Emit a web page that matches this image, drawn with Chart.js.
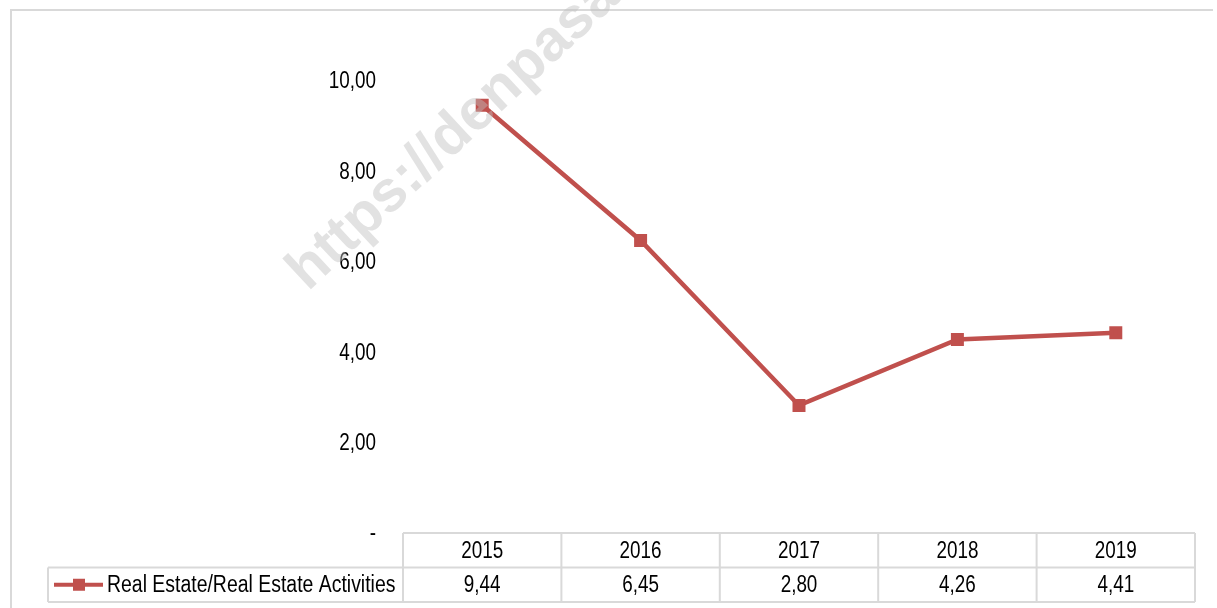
<!DOCTYPE html>
<html>
<head>
<meta charset="utf-8">
<script src="https://cdn.jsdelivr.net/npm/chart.js@4"></script>
<style>
  html, body { margin: 0; padding: 0; background: #fff; }
  #wrap { width: 1217px; height: 608px; position: relative; }
</style>
</head>
<body>
<div id="wrap"><canvas id="myChart" width="1217" height="608"></canvas></div>
<script>
const years = ['2015', '2016', '2017', '2018', '2019']
const realEstate = [9.44, 6.45, 2.80, 4.26, 4.41]
const seriesName = 'Real Estate/Real Estate Activities'
const yTicks = [0, 2, 4, 6, 8, 10]

const FONT = "'Liberation Sans', Arial, sans-serif"
const NARROW = 0.82   // squeeze text like Arial Narrow
const RED = '#c0504d'
const GRID = '#d9d9d9'

const fmt = (v) => v === 0 ? '-' : v.toFixed(2).replace('.', ',')

// draw text squeezed horizontally
const narrowText = (ctx, txt, x, y, align, sx) => {
  ctx.save()
  ctx.translate(x, y)
  ctx.scale(sx || NARROW, 1)
  ctx.textAlign = align
  ctx.fillText(txt, 0, 0)
  ctx.restore()
}

// watermark + frame + y labels + data table under the plot
const extras = {
  id: 'extras',
  beforeDraw(chart) {
    const ctx = chart.ctx
    ctx.save()
    ctx.strokeStyle = GRID
    ctx.lineWidth = 2
    ctx.beginPath()
    ctx.moveTo(11, 620)
    ctx.lineTo(11, 10)
    ctx.lineTo(1213, 10)
    ctx.stroke()
    ctx.restore()
  },
  afterDraw(chart) {
    const ctx = chart.ctx
    const x = chart.scales.x
    const y = chart.scales.y
    const area = chart.chartArea
    const step = x.getPixelForValue(1) - x.getPixelForValue(0)
    const top = area.bottom + 1
    const rowH = 34.5
    const legendLeft = 48

    ctx.save()
    ctx.fillStyle = '#000'
    ctx.font = '23px ' + FONT
    ctx.textBaseline = 'middle'
    y.ticks.forEach(t => {
      narrowText(ctx, fmt(t.value), 376, y.getPixelForValue(t.value) + 2, 'right')
    })

    ctx.strokeStyle = GRID
    ctx.lineWidth = 2
    ctx.beginPath()
    ctx.moveTo(area.left, top)
    ctx.lineTo(area.right, top)
    ctx.moveTo(legendLeft, top + rowH)
    ctx.lineTo(area.right, top + rowH)
    ctx.moveTo(legendLeft, top + rowH * 2)
    ctx.lineTo(area.right, top + rowH * 2)
    ctx.moveTo(legendLeft, top + rowH)
    ctx.lineTo(legendLeft, top + rowH * 2)
    years.forEach((yr, i) => {
      const c = x.getPixelForValue(i)
      ctx.moveTo(c - step / 2, top)
      ctx.lineTo(c - step / 2, top + rowH * 2)
    })
    const last = x.getPixelForValue(years.length - 1) + step / 2
    ctx.moveTo(last, top)
    ctx.lineTo(last, top + rowH * 2)
    ctx.stroke()

    years.forEach((yr, i) => {
      const c = x.getPixelForValue(i)
      narrowText(ctx, yr, c, top + rowH / 2 + 1, 'center')
      narrowText(ctx, fmt(realEstate[i]), c, top + rowH * 1.5 + 1, 'center')
    })

    // legend key
    const ly = top + rowH * 1.5
    ctx.strokeStyle = RED
    ctx.lineWidth = 4
    ctx.beginPath()
    ctx.moveTo(54, ly)
    ctx.lineTo(103, ly)
    ctx.stroke()
    ctx.fillStyle = RED
    ctx.fillRect(73, ly - 6, 12, 12)
    ctx.fillStyle = '#000'
    narrowText(ctx, seriesName, 107, ly + 1, 'left', 0.845)

    // watermark
    ctx.translate(308, 292)
    ctx.rotate(-43 * Math.PI / 180)
    ctx.font = 'bold 58px ' + FONT
    ctx.fillStyle = 'rgba(190,190,190,0.45)'
    ctx.textAlign = 'left'
    ctx.textBaseline = 'alphabetic'
    ctx.fillText('https://denpasarkota.bps.go.id', 0, 0)
    ctx.restore()
  }
}

new Chart('myChart', {
  type: 'line',
  data: {
    labels: years,
    datasets: [{
      label: seriesName,
      data: realEstate,
      borderColor: RED,
      backgroundColor: RED,
      borderWidth: 4.5,
      pointStyle: 'rect',
      pointRadius: 6,
      pointHoverRadius: 6,
      tension: 0
    }]
  },
  options: {
    responsive: false,
    animation: false,
    layout: { padding: { top: 80, right: 22, bottom: 76, left: 0 } },
    plugins: {
      legend: { display: false },
      tooltip: { enabled: false }
    },
    scales: {
      x: {
        display: false,
        offset: true
      },
      y: {
        min: 0,
        max: 10,
        afterFit: (s) => { s.width = 403 },
        afterBuildTicks: (s) => { s.ticks = yTicks.map(v => ({ value: v })) },
        grid: { display: false },
        border: { display: false },
        ticks: { display: false }
      }
    }
  },
  plugins: [extras]
})
</script>
</body>
</html>
